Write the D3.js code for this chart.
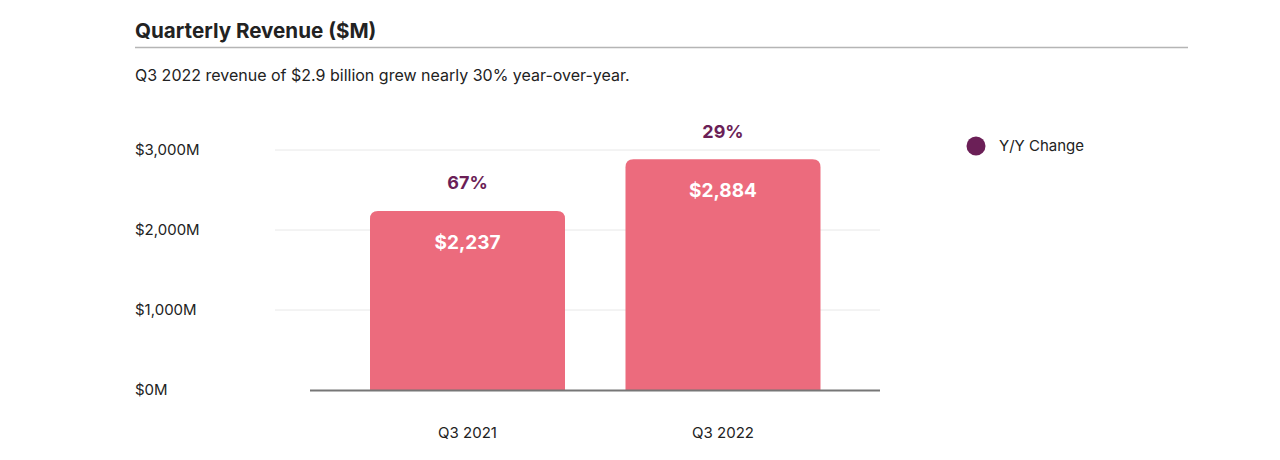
<!DOCTYPE html>
<html><head><meta charset="utf-8">
<script src="https://cdn.jsdelivr.net/npm/d3@7"></script>
<style>
body{margin:0;background:#fff;}
svg{display:block;font-family:Inter, "Noto Sans", sans-serif;}
</style></head>
<body><svg id="c" width="1280" height="460"></svg>
<script>
const categories = ["Q3 2021", "Q3 2022"];
const revenue = [2237, 2884];
const yoyChange = ["67%", "29%"];
const yTicks = [0, 1000, 2000, 3000];
const yTickLabels = ["$0M", "$1,000M", "$2,000M", "$3,000M"];

const svg = d3.select("#c");
const barColor = "#EC6B7D", purple = "#6B1F57";

svg.append("text").attr("x",135).attr("y",38).attr("font-size",20.6).attr("font-weight",700).attr("fill","#222").text("Quarterly Revenue ($M)");
svg.append("line").attr("x1",135).attr("x2",1188).attr("y1",47.5).attr("y2",47.5).attr("stroke","#b5b5b5").attr("stroke-width",1.5);
svg.append("text").attr("x",135).attr("y",81).attr("font-size",16).attr("fill","#222").text("Q3 2022 revenue of $2.9 billion grew nearly 30% year-over-year.");

const y = d3.scaleLinear().domain([0,3000]).range([390,150]);
const p = 0.2368;
const x = d3.scaleBand().domain(categories).range([339.75,850.75]).paddingInner(p).paddingOuter(p/2);

// gridlines
svg.append("g").selectAll("line").data(yTicks.filter(d=>d>0)).join("line")
  .attr("x1",275).attr("x2",880).attr("y1",d=>y(d)).attr("y2",d=>y(d))
  .attr("stroke","#e8e8e8").attr("stroke-width",1);
// y labels
svg.append("g").selectAll("text").data(yTicks).join("text")
  .attr("x",135).attr("y",d=>y(d)).attr("dy","0.35em").attr("font-size",15).attr("fill","#222")
  .text((d,i)=>yTickLabels[i]);

// bars with rounded top corners
const r = 8;
svg.append("g").selectAll("path").data(revenue).join("path")
  .attr("fill",barColor)
  .attr("d",(d,i)=>{
    const x0 = x(categories[i]), w = x.bandwidth(), y0 = y(d), yb = y(0);
    return `M${x0},${yb}V${y0+r}Q${x0},${y0} ${x0+r},${y0}H${x0+w-r}Q${x0+w},${y0} ${x0+w},${y0+r}V${yb}Z`;
  });

// axis baseline
svg.append("line").attr("x1",310).attr("x2",880).attr("y1",390.5).attr("y2",390.5).attr("stroke","#777").attr("stroke-width",2);

// value labels
svg.append("g").selectAll("text").data(revenue).join("text")
  .attr("x",(d,i)=>x(categories[i])+x.bandwidth()/2).attr("y",d=>y(d)+31).attr("dy","0.35em")
  .attr("text-anchor","middle").attr("font-size",19).attr("font-weight",700).attr("fill","#fff")
  .text(d=>"$"+d3.format(",")(d));
// yoy labels
svg.append("g").selectAll("text").data(revenue).join("text")
  .attr("x",(d,i)=>x(categories[i])+x.bandwidth()/2).attr("y",d=>y(d)-28).attr("dy","0.35em")
  .attr("text-anchor","middle").attr("font-size",18).attr("font-weight",700).attr("fill",purple)
  .text((d,i)=>yoyChange[i]);
// x labels
svg.append("g").selectAll("text").data(categories).join("text")
  .attr("x",d=>x(d)+x.bandwidth()/2).attr("y",433).attr("dy","0.35em")
  .attr("text-anchor","middle").attr("font-size",15).attr("fill","#222").text(d=>d);

// legend
svg.append("circle").attr("cx",976).attr("cy",146).attr("r",9.5).attr("fill",purple);
svg.append("text").attr("x",999).attr("y",146).attr("dy","0.35em").attr("font-size",15).attr("fill","#222").text("Y/Y Change");
</script></body></html>
